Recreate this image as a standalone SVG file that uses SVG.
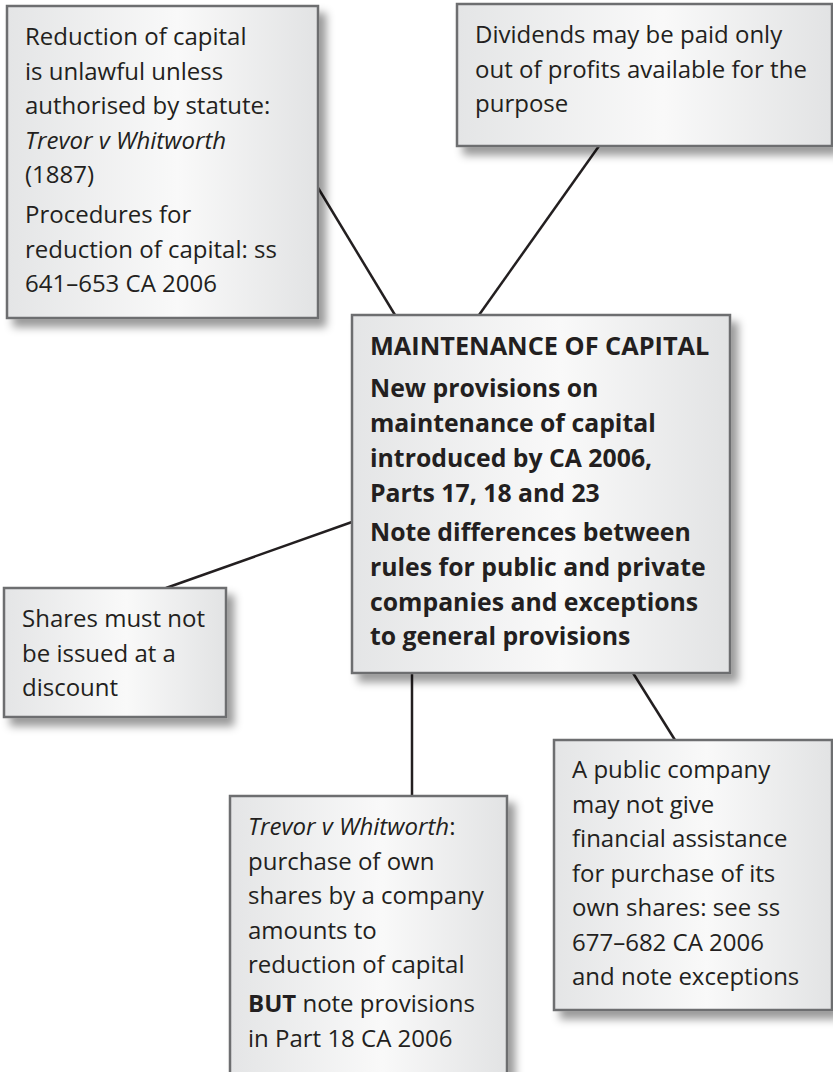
<svg xmlns="http://www.w3.org/2000/svg" width="833" height="1072" viewBox="0 0 833 1072">
<style>
.box{fill:url(#g);stroke:#6d6e70;stroke-width:2.5;filter:url(#sh)}
.t{font-family:"Open Sans","Liberation Sans",sans-serif;font-size:24px;fill:#231f20}
.b{font-weight:bold;font-size:24.8px}
.ttl{font-size:25.3px}
.i{font-style:italic}
.c{stroke:#231f20;stroke-width:2.5;fill:none}
</style>
<defs>
<linearGradient id="g" x1="0" y1="0" x2="1" y2="0">
<stop offset="0" stop-color="#e4e5e6"/>
<stop offset="0.55" stop-color="#f9f9f9"/>
<stop offset="1" stop-color="#e2e3e4"/>
</linearGradient>
<filter id="sh" x="-10%" y="-10%" width="130%" height="130%">
<feDropShadow dx="7" dy="8" stdDeviation="4" flood-color="#000" flood-opacity="0.4"/>
</filter>
</defs>
<rect width="833" height="1072" fill="#fff"/>
<g id="connectors">
<line class="c" x1="300" y1="158" x2="395" y2="315"/>
<line class="c" x1="599" y1="146" x2="479" y2="315"/>
<line class="c" x1="166" y1="588" x2="352" y2="522"/>
<line class="c" x1="412" y1="673" x2="412" y2="796"/>
<line class="c" x1="633" y1="673" x2="675" y2="740"/>
</g>
<g id="n1">
<rect class="box" x="7" y="6" width="311" height="312"/>
<text class="t" x="25" y="45">Reduction of capital</text>
<text class="t" x="25" y="79.5">is unlawful unless</text>
<text class="t" x="25" y="114">authorised by statute:</text>
<text class="t i" x="25" y="148.5">Trevor v Whitworth</text>
<text class="t" x="25" y="183">(1887)</text>
<text class="t" x="25" y="223">Procedures for</text>
<text class="t" x="25" y="257.5">reduction of capital: ss</text>
<text class="t" x="25" y="292">641–653 CA 2006</text>
</g>
<g id="n2">
<rect class="box" x="457" y="4" width="375" height="142"/>
<text class="t" x="475" y="43">Dividends may be paid only</text>
<text class="t" x="475" y="77.5">out of profits available for the</text>
<text class="t" x="475" y="112">purpose</text>
</g>
<g id="center">
<rect class="box" x="352" y="315" width="378" height="358"/>
<text class="t b ttl" x="370" y="355">MAINTENANCE OF CAPITAL</text>
<text class="t b" x="370" y="397">New provisions on</text>
<text class="t b" x="370" y="432">maintenance of capital</text>
<text class="t b" x="370" y="467">introduced by CA 2006,</text>
<text class="t b" x="370" y="502">Parts 17, 18 and 23</text>
<text class="t b" x="370" y="541">Note differences between</text>
<text class="t b" x="370" y="576">rules for public and private</text>
<text class="t b" x="370" y="611">companies and exceptions</text>
<text class="t b" x="370" y="645">to general provisions</text>
</g>
<g id="n3">
<rect class="box" x="4" y="588" width="222" height="129"/>
<text class="t" x="22" y="627">Shares must not</text>
<text class="t" x="22" y="661.5">be issued at a</text>
<text class="t" x="22" y="696">discount</text>
</g>
<g id="n4">
<rect class="box" x="230" y="796" width="277" height="290"/>
<text class="t" x="248" y="835"><tspan class="i">Trevor v Whitworth</tspan>:</text>
<text class="t" x="248" y="869.5">purchase of own</text>
<text class="t" x="248" y="904">shares by a company</text>
<text class="t" x="248" y="938.5">amounts to</text>
<text class="t" x="248" y="973">reduction of capital</text>
<text class="t" x="248" y="1012"><tspan font-weight="bold">BUT</tspan> note provisions</text>
<text class="t" x="248" y="1046.5">in Part 18 CA 2006</text>
</g>
<g id="n5">
<rect class="box" x="554" y="740" width="278" height="270"/>
<text class="t" x="572" y="778">A public company</text>
<text class="t" x="572" y="812.5">may not give</text>
<text class="t" x="572" y="847">financial assistance</text>
<text class="t" x="572" y="881.5">for purchase of its</text>
<text class="t" x="572" y="916">own shares: see ss</text>
<text class="t" x="572" y="950.5">677–682 CA 2006</text>
<text class="t" x="572" y="985">and note exceptions</text>
</g>
</svg>
